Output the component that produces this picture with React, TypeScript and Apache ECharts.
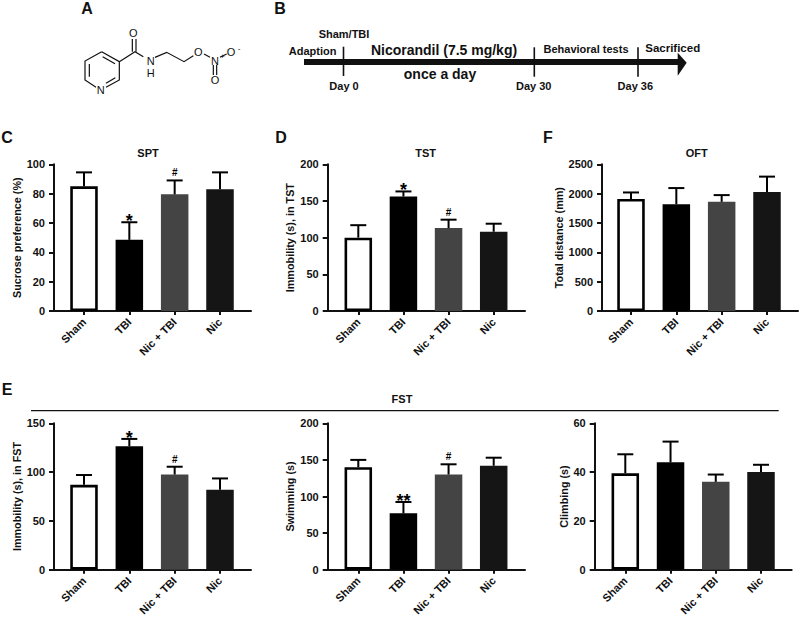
import React, { useEffect, useRef } from "react";
import * as echarts from "echarts";

const categories = ["Sham", "TBI", "Nic + TBI", "Nic"];
const barColors = ["#ffffff", "#000000", "#444444", "#151515"];
const FONT = "'Liberation Sans', Arial, sans-serif";

const sptValues = [85, 48.5, 79.5, 83];
const sptTops = [94.5, 60.5, 89, 94.5];
const sptMarks = ["", "*", "#", ""];
const tstValues = [100, 156, 113, 108];
const tstTops = [117, 163, 124.5, 119];
const tstMarks = ["", "*", "#", ""];
const oftValues = [1910, 1820, 1860, 2030];
const oftTops = [2020, 2095, 1975, 2290];
const oftMarks = ["", "", "", ""];
const fstImmValues = [87, 126.5, 97.5, 82];
const fstImmTops = [97, 134, 105.5, 93.5];
const fstImmMarks = ["", "*", "#", ""];
const swimValues = [140, 77, 130, 142];
const swimTops = [150, 92.5, 144, 153];
const swimMarks = ["", "**", "#", ""];
const climbValues = [39.5, 44, 36, 40];
const climbTops = [47.3, 52.5, 39, 43];
const climbMarks = ["", "", "", ""];

const panels = [
  { name: "Sucrose preference (%)", gap: 32, max: 100, step: 20, values: sptValues, tops: sptTops, marks: sptMarks, ax: 54, end: 251, first: 84, last: 220, y0: 311, yT: 164.3 },
  { name: "Immobility (s), in TST", gap: 32, max: 200, step: 50, values: tstValues, tops: tstTops, marks: tstMarks, ax: 327.7, end: 525, first: 358.3, last: 493.7, y0: 311, yT: 164.3 },
  { name: "Total distance (mm)", gap: 38, max: 2500, step: 500, values: oftValues, tops: oftTops, marks: oftMarks, ax: 602, end: 798, first: 631, last: 767, y0: 311, yT: 164.3 },
  { name: "Immobility (s), in FST", gap: 31.5, max: 150, step: 50, values: fstImmValues, tops: fstImmTops, marks: fstImmMarks, ax: 54, end: 251, first: 84, last: 220, y0: 569.7, yT: 423.3 },
  { name: "Swimming (s)", gap: 32, max: 200, step: 50, values: swimValues, tops: swimTops, marks: swimMarks, ax: 327.7, end: 525, first: 358.3, last: 493.7, y0: 569.7, yT: 423.3 },
  { name: "Climbing (s)", gap: 25.5, max: 60, step: 20, values: climbValues, tops: climbTops, marks: climbMarks, ax: 594.7, end: 791.7, first: 625.3, last: 761, y0: 569.7, yT: 423.3 },
];

const textEl = (text: string, x: number, y: number, size: number, extra: any = {}) => ({
  type: "text",
  x,
  y,
  silent: true,
  style: { text, fontFamily: FONT, fontSize: size, fontWeight: "bold", fill: "#111", align: "center", verticalAlign: "middle", ...extra },
});
const lineEl = (pts: number[][], w = 1.2) => ({
  type: "polyline",
  silent: true,
  shape: { points: pts },
  style: { stroke: "#111", lineWidth: w, fill: "none" },
});
const atomEl = (text: string, x: number, y: number, size = 11) => textEl(text, x, y, size, { fontWeight: "normal" });

// Molecule, in page pixels
const m = (zx: number, zy: number) => [60 + zx / 3, zy / 3];
const moleculeBonds = [
  [m(125, 155), m(178, 185), m(178, 240), m(138, 262)],
  [m(108, 262), m(75, 240), m(75, 183), m(125, 155)],
  [m(88, 230), m(88, 192)],
  [m(128, 170), m(165, 191)],
  [m(138, 250), m(166, 233)],
  [m(178, 185), m(225, 155), m(250, 170)],
  [m(217, 155), m(217, 117)],
  [m(228, 155), m(228, 117)],
  [m(285, 172), m(320, 157), m(372, 185), m(400, 167)],
  [m(432, 162), m(450, 172)],
  [m(460, 195), m(460, 225)],
  [m(470, 195), m(470, 225)],
  [m(480, 172), m(500, 162)],
];

const graphics: any[] = [
  textEl("A", 87, 8, 16),
  textEl("B", 280, 8, 16),
  textEl("C", 7, 137, 16),
  textEl("D", 281, 137, 16),
  textEl("F", 548, 137, 16),
  textEl("E", 7, 389, 16),
  ...moleculeBonds.map((p) => lineEl(p)),
  atomEl("O", 60 + 220 / 3, 100 / 3),
  atomEl("N", 60 + 272 / 3, 183 / 3),
  atomEl("H", 60 + 272 / 3, 218 / 3),
  atomEl("N", 60 + 122 / 3, 270 / 3),
  atomEl("O", 60 + 415 / 3, 155 / 3),
  atomEl("N", 60 + 465 / 3, 183 / 3),
  atomEl("+", 60 + 487 / 3, 170 / 3, 8),
  atomEl("O", 60 + 513 / 3, 155 / 3),
  atomEl("-", 60 + 537 / 3, 146 / 3, 8),
  atomEl("O", 60 + 465 / 3, 240 / 3),
  // Timeline
  { type: "rect", silent: true, shape: { x: 304, y: 59, width: 376, height: 6 }, style: { fill: "#111" } },
  { type: "polygon", silent: true, shape: { points: [[677.7, 52.7], [686.7, 62.7], [677.7, 75.7]] }, style: { fill: "#111" } },
  lineEl([[343.5, 46.7], [343.5, 76]], 1.6),
  lineEl([[534.3, 47.3], [534.3, 76.7]], 1.6),
  lineEl([[638, 47.3], [638, 76.7]], 1.6),
  textEl("Sham/TBI", 344, 34, 11),
  textEl("Adaption", 312.6, 50.7, 11),
  textEl("Nicorandil (7.5 mg/kg)", 444, 50, 14),
  textEl("once a day", 440, 74, 14),
  textEl("Behavioral tests", 586, 49, 11),
  textEl("Sacrificed", 672.7, 48, 11.5),
  textEl("Day 0", 344, 86, 11),
  textEl("Day 30", 533.7, 85.7, 11),
  textEl("Day 36", 635.3, 85.7, 11),
  // Titles and FST rule
  textEl("SPT", 148, 152.5, 11),
  textEl("TST", 425.7, 152.5, 11),
  textEl("OFT", 696.7, 152.5, 11),
  textEl("FST", 402, 399, 11),
  lineEl([[31, 410.7], [778.7, 410.7]], 1.2),
];

function buildOption() {
  const grid: any[] = [];
  const xAxis: any[] = [];
  const yAxis: any[] = [];
  const series: any[] = [];
  panels.forEach((p, i) => {
    const band = (p.last - p.first) / 3;
    const top = p.yT;
    const height = p.y0 - p.yT;
    const frame = i * 2;
    const inner = i * 2 + 1;
    grid.push({ left: p.ax, top, width: p.end - p.ax, height });
    grid.push({ left: p.first - band / 2, top, width: band * 4, height });
    xAxis.push({
      gridIndex: frame,
      type: "category",
      data: [""],
      axisLine: { show: true, lineStyle: { color: "#111", width: 2 } },
      axisTick: { show: false },
      axisLabel: { show: false },
    });
    xAxis.push({
      gridIndex: inner,
      type: "category",
      data: categories,
      axisLine: { show: false },
      axisTick: { show: true, alignWithLabel: true, length: 4, lineStyle: { color: "#111", width: 2 } },
      axisLabel: { rotate: 45, interval: 0, margin: 9, fontFamily: FONT, fontSize: 11, fontWeight: "bold", color: "#111" },
    });
    yAxis.push({
      gridIndex: frame,
      type: "value",
      min: 0,
      max: p.max,
      interval: p.step,
      name: p.name,
      nameLocation: "middle",
      nameGap: p.gap,
      nameTextStyle: { fontFamily: FONT, fontSize: 10.8, fontWeight: "bold", color: "#111" },
      axisLine: { show: true, lineStyle: { color: "#111", width: 2 } },
      axisTick: { show: true, length: 5, lineStyle: { color: "#111", width: 2 } },
      axisLabel: { margin: 9, formatter: (v: number) => String(v), fontFamily: FONT, fontSize: 11, fontWeight: "bold", color: "#111" },
      splitLine: { show: false },
    });
    yAxis.push({
      gridIndex: inner,
      type: "value",
      min: 0,
      max: p.max,
      interval: p.step,
      axisLine: { show: false },
      axisTick: { show: false },
      axisLabel: { show: false },
      splitLine: { show: false },
    });
    series.push({
      type: "bar",
      xAxisIndex: inner,
      yAxisIndex: inner,
      barWidth: 27.5,
      data: p.values.map((v, k) => ({
        value: v,
        itemStyle: { color: barColors[k], borderColor: k === 0 ? "#000" : barColors[k], borderWidth: 2.6 },
      })),
      silent: true,
    });
    series.push({
      type: "custom",
      xAxisIndex: inner,
      yAxisIndex: inner,
      silent: true,
      z: 5,
      data: p.values.map((v, k) => [k, v, p.tops[k]]),
      encode: { x: 0, y: [1, 2] },
      renderItem: (params: any, api: any) => {
        const k = api.value(0);
        const base = api.coord([k, api.value(1)]);
        const tip = api.coord([k, api.value(2)]);
        const stroke = { stroke: "#000", lineWidth: 2 };
        const mark = p.marks[k];
        const children: any[] = [
          { type: "line", shape: { x1: base[0], y1: base[1], x2: tip[0], y2: tip[1] }, style: stroke },
          { type: "line", shape: { x1: tip[0] - 8, y1: tip[1], x2: tip[0] + 8, y2: tip[1] }, style: stroke },
        ];
        if (mark) {
          const star = mark.includes("*");
          children.push({
            type: "text",
            style: {
              text: mark,
              x: tip[0],
              y: star ? tip[1] - 1 : tip[1] - 2.5,
              align: "center",
              verticalAlign: star ? "middle" : "bottom",
              fontFamily: FONT,
              fontWeight: "bold",
              fontSize: star ? 18 : 10,
              fill: "#000",
            },
          });
        }
        return { type: "group", children };
      },
    });
  });
  return {
    animation: false,
    backgroundColor: "#fff",
    grid,
    xAxis,
    yAxis,
    series,
    graphic: { elements: graphics },
  };
}

export default function App() {
  const ref = useRef<HTMLDivElement>(null);
  useEffect(() => {
    const chart = echarts.init(ref.current!, undefined, { renderer: "svg" });
    chart.setOption(buildOption() as any);
    return () => chart.dispose();
  }, []);
  return <div ref={ref} style={{ position: "fixed", left: 0, top: 0, width: 800, height: 619 }} />;
}
